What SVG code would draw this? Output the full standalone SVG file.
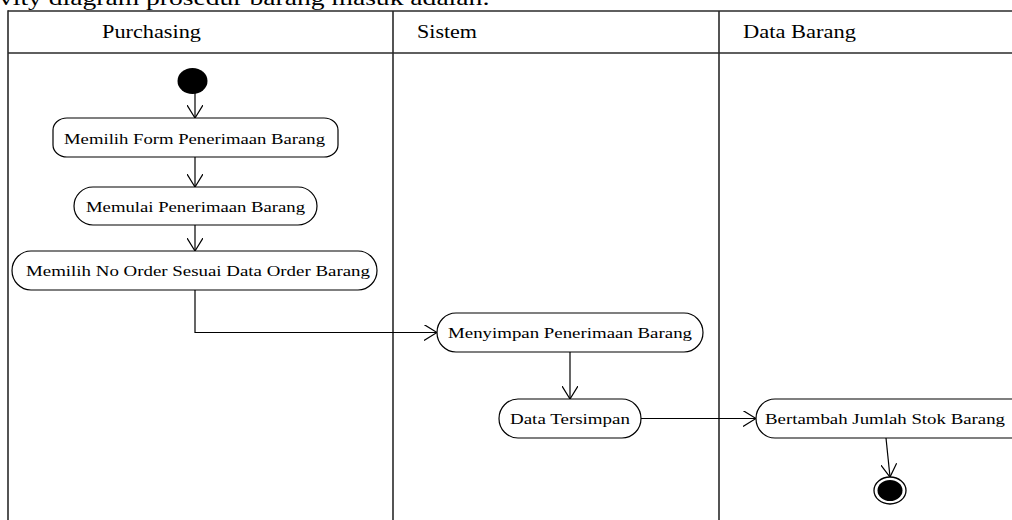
<svg xmlns="http://www.w3.org/2000/svg" width="1012" height="520" viewBox="0 0 1012 520">
  <style>
    .lane { stroke: #2a2a2a; stroke-width: 1.6; fill: none; }
    .act { fill: #ffffff; stroke: #000000; stroke-width: 1.2; }
    .lbl { font-family: "Liberation Serif", "Times New Roman", serif; font-size: 15px; fill: #000000; }
    .hdr { font-family: "Liberation Serif", "Times New Roman", serif; font-size: 18px; fill: #000000; }
    .cap { font-family: "Liberation Serif", "Times New Roman", serif; font-size: 22px; fill: #000000; }
    .flow { stroke: #000000; stroke-width: 1.2; fill: none; marker-end: url(#open); }
  </style>
  <defs>
    <marker id="open" viewBox="0 0 14 16" refX="13" refY="8" markerWidth="14" markerHeight="16" markerUnits="userSpaceOnUse" orient="auto">
      <path d="M0,0 L13,8 L0,16" fill="none" stroke="#000000" stroke-width="1.2"/>
    </marker>
  </defs>

  <rect width="1012" height="520" fill="#ffffff"/>

  <!-- caption line above the swimlanes (clipped at the top) -->
  <text class="cap" x="-1" y="5" textLength="491" lengthAdjust="spacingAndGlyphs">vity diagram prosedur barang masuk adalah:</text>

  <!-- swimlane frame -->
  <g id="lanes">
    <line class="lane" x1="8" y1="11" x2="1012" y2="11"/>
    <line class="lane" x1="8" y1="53" x2="1012" y2="53"/>
    <line class="lane" x1="8" y1="10.2" x2="8" y2="520"/>
    <line class="lane" x1="393" y1="11" x2="393" y2="520"/>
    <line class="lane" x1="719" y1="11" x2="719" y2="520"/>
    <text class="hdr" x="102" y="38" textLength="99" lengthAdjust="spacingAndGlyphs">Purchasing</text>
    <text class="hdr" x="417" y="38" textLength="60" lengthAdjust="spacingAndGlyphs">Sistem</text>
    <text class="hdr" x="743" y="38" textLength="113" lengthAdjust="spacingAndGlyphs">Data Barang</text>
  </g>

  <!-- connectors -->
  <g id="connectors">
    <line class="flow" x1="195" y1="93" x2="195" y2="118"/>
    <line class="flow" x1="195" y1="157" x2="195" y2="187"/>
    <line class="flow" x1="195" y1="225" x2="195" y2="251"/>
    <polyline class="flow" points="195,290 195,332.5 437,332.5"/>
    <line class="flow" x1="570" y1="352" x2="570" y2="399"/>
    <line class="flow" x1="641" y1="418.5" x2="756" y2="418.5"/>
    <line class="flow" x1="886" y1="438" x2="890" y2="477"/>
  </g>

  <g id="start">
    <ellipse cx="192.5" cy="81" rx="15" ry="13" fill="#000000"/>
  </g>

  <g id="memilih-form">
    <rect class="act" x="53" y="118" width="285" height="39" rx="14" ry="12"/>
    <text class="lbl" x="64" y="143.5" textLength="261" lengthAdjust="spacingAndGlyphs">Memilih Form Penerimaan Barang</text>
  </g>

  <g id="memulai-penerimaan">
    <rect class="act" x="74" y="187" width="243" height="38" rx="19" ry="19"/>
    <text class="lbl" x="86" y="211.5" textLength="219" lengthAdjust="spacingAndGlyphs">Memulai Penerimaan Barang</text>
  </g>

  <g id="memilih-no-order">
    <rect class="act" x="12" y="251" width="365" height="39" rx="19" ry="19.5"/>
    <text class="lbl" x="26" y="276" textLength="344" lengthAdjust="spacingAndGlyphs">Memilih No Order Sesuai Data Order Barang</text>
  </g>

  <g id="menyimpan-penerimaan">
    <rect class="act" x="437" y="313" width="266" height="39" rx="19" ry="19.5"/>
    <text class="lbl" x="448" y="338" textLength="244" lengthAdjust="spacingAndGlyphs">Menyimpan Penerimaan Barang</text>
  </g>

  <g id="data-tersimpan">
    <rect class="act" x="499" y="399" width="142" height="39" rx="19" ry="19.5"/>
    <text class="lbl" x="510" y="424" textLength="120" lengthAdjust="spacingAndGlyphs">Data Tersimpan</text>
  </g>

  <g id="bertambah-stok">
    <rect class="act" x="756" y="399" width="274" height="39" rx="19" ry="19.5"/>
    <text class="lbl" x="765" y="424" textLength="240" lengthAdjust="spacingAndGlyphs">Bertambah Jumlah Stok Barang</text>
  </g>

  <g id="end">
    <ellipse cx="890" cy="490.5" rx="16" ry="13.5" fill="#ffffff" stroke="#000000" stroke-width="1.3"/>
    <ellipse cx="890" cy="490.5" rx="12.5" ry="10.5" fill="#000000"/>
  </g>
</svg>
